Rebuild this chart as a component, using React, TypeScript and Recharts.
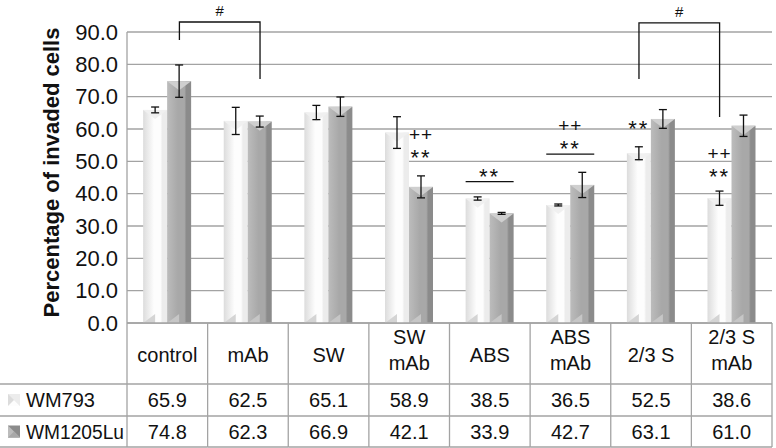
import React from 'react';
import { BarChart, Bar, XAxis, YAxis, CartesianGrid, ErrorBar, LabelList, ReferenceLine } from 'recharts';

const categories = ['control', 'mAb', 'SW', 'SW\nmAb', 'ABS', 'ABS\nmAb', '2/3 S', '2/3 S\nmAb'];
const wm793 = [65.9, 62.5, 65.1, 58.9, 38.5, 36.5, 52.5, 38.6];
const wm1205Lu = [74.8, 62.3, 66.9, 42.1, 33.9, 42.7, 63.1, 61.0];
const wm793Err = [0.9, 4.2, 2.2, 4.9, 0.5, 0.3, 2.0, 2.2];
const wm1205LuErr = [5.0, 1.7, 3.0, 3.4, 0.3, 3.9, 2.9, 3.3];
const seriesNames = ['WM793', 'WM1205Lu'];
const yTicks = [0, 10, 20, 30, 40, 50, 60, 70, 80, 90];

// significance marks; heights are in data units (percent)
const marks = [
  { cat: 3, on: 'b', text: ['++', '**'], at: [58.1, 52.6] },
  { cat: 4, on: 'pair', text: ['**'], at: [46.7], rule: 43.7 },
  { cat: 5, on: 'pair', text: ['++', '**'], at: [60.9, 55.4], rule: 52.2 },
  { cat: 6, on: 'a', text: ['**'], at: [61.6] },
  { cat: 7, on: 'a', text: ['++', '**'], at: [52.3, 46.8] },
];

// "#" brackets between two bars
const brackets = [
  { from: 'control', to: 'mAb', on: 'b', legs: [87.5, 75.5], top: 93.1 },
  { from: '2/3 S', to: '2/3 S\nmAb', on: 'a', legs: [75.5, 63.7], top: 92.8 },
];

const data = categories.map((name, i) => ({
  name,
  a: wm793[i],
  b: wm1205Lu[i],
  ea: wm793Err[i],
  eb: wm1205LuErr[i],
}));

const W = 776;
const H = 448;
const GAP = 0.2; // barCategoryGap as fraction
const FONT = "'Liberation Sans', Arial, Helvetica, sans-serif";
const INK = '#111';
const LINE = '#a3a3a3';

const palettes: any = {
  a: { left: '#dcdcdc', mid: '#fdfdfd', right: '#ececec', top: '#f0f0f0', bottom: '#d4d4d4' },
  b: { left: '#bcbcbc', mid: '#a8a8a8', right: '#8b8b8b', top: '#cfcfcf', bottom: '#c6c6c6' },
};

function BevelBar(props: any) {
  const { x, y, width: w, height: h, pal } = props;
  if (!h || h <= 0) return null;
  const p = palettes[pal];
  const b = Math.min(w * 0.38, h / 2);
  const id = `bevel-${pal}`;
  return (
    <g>
      <defs>
        <linearGradient id={id} x1="0" y1="0" x2="1" y2="0">
          <stop offset="0" stopColor={p.left} />
          <stop offset="0.45" stopColor={p.mid} />
          <stop offset="0.72" stopColor={p.mid} />
          <stop offset="0.8" stopColor={p.right} />
          <stop offset="1" stopColor={p.right} />
        </linearGradient>
      </defs>
      <rect x={x} y={y} width={w} height={h} fill={`url(#${id})`} />
      <polygon points={`${x},${y} ${x + w},${y} ${x + w / 2},${y + b}`} fill={p.top} />
      <polygon points={`${x},${y + h} ${x + w / 2},${y + h - b} ${x + w / 2},${y + h}`} fill={p.bottom} />
    </g>
  );
}

function SigMark(props: any, series: string) {
  const { x, y, width, height, value, index } = props;
  const m = marks.find((k) => k.cat === index && (k.on === series || (k.on === 'pair' && series === 'a')));
  if (!m || !height) return null;
  const base = y + height;
  const py = (v: number) => base - (v * height) / value;
  const cx = m.on === 'pair' ? x + width : x + width / 2;
  return (
    <g>
      {m.text.map((t, j) => (
        <text
          key={j}
          x={cx}
          y={py(m.at[j]) + (t === '**' ? 12 : 6)}
          textAnchor="middle"
          fontSize={t === '**' ? 22 : 19}
          letterSpacing={t === '**' ? 2 : 1}
          fontFamily={FONT}
          fill={INK}
        >
          {t}
        </text>
      ))}
      {m.rule !== undefined && (
        <line x1={x} x2={x + 2 * width} y1={py(m.rule)} y2={py(m.rule)} stroke={INK} strokeWidth={1.3} />
      )}
    </g>
  );
}

function bracketShape(br: any) {
  return (props: any) => {
    const { x1, y1, x2, y2 } = props;
    const dist = categories.indexOf(br.to) - categories.indexOf(br.from);
    const step = (x2 - x1) / dist;
    const shift = (br.on === 'b' ? 1 : -1) * ((1 - 2 * GAP) / 4) * step;
    const ax = x1 + shift;
    const bx = x2 + shift;
    const perUnit = (y2 - y1) / (br.legs[1] - br.legs[0]);
    const ty = y1 + (br.top - br.legs[0]) * perUnit;
    return (
      <g>
        <path d={`M${ax},${y1} V${ty} H${bx} V${y2}`} stroke={INK} strokeWidth={1.3} fill="none" />
        <text x={(ax + bx) / 2} y={ty - 6} textAnchor="middle" fontSize={15} fontFamily={FONT} fill={INK}>
          #
        </text>
      </g>
    );
  };
}

function LegendKey({ x, y, pal }: any) {
  const p = palettes[pal];
  const s = 12;
  return (
    <g>
      <rect x={x} y={y - s / 2} width={s} height={s} fill={p.right} />
      <polygon points={`${x},${y - s / 2} ${x + s},${y + s / 2} ${x},${y + s / 2}`} fill={p.left} />
      <polygon points={`${x},${y + s / 2} ${x + s},${y + s / 2} ${x + s / 2},${y}`} fill={p.mid} />
    </g>
  );
}

function TableTick(props: any) {
  const { x, y, payload, index, width } = props;
  const n = categories.length;
  const cw = width / n;
  const left = x - cw / 2;
  const right = x + cw / 2;
  const rows = [y + 61, y + 93, y + 124];
  const lines = String(payload.value).split('\n');
  const txt = { fontFamily: FONT, fontSize: 20, fill: INK, textAnchor: 'middle' as const, dominantBaseline: 'central' as const };
  const i = categories.indexOf(payload.value);
  return (
    <g>
      {index === 0 && (
        <g>
          <line x1={left} x2={left} y1={y} y2={rows[2]} stroke={LINE} strokeWidth={1.3} />
          <line x1={0} x2={left} y1={rows[0]} y2={rows[0]} stroke={LINE} strokeWidth={1.3} />
          <line x1={0} x2={left} y1={rows[1]} y2={rows[1]} stroke={LINE} strokeWidth={1.3} />
          <line x1={0} x2={left} y1={rows[2]} y2={rows[2]} stroke={LINE} strokeWidth={1.3} />
          <LegendKey x={8} y={(rows[0] + rows[1]) / 2} pal="a" />
          <LegendKey x={8} y={(rows[1] + rows[2]) / 2} pal="b" />
          <text {...txt} textAnchor="start" x={26} y={(rows[0] + rows[1]) / 2}>{seriesNames[0]}</text>
          <text {...txt} textAnchor="start" x={26} y={(rows[1] + rows[2]) / 2} textLength={98} lengthAdjust="spacingAndGlyphs">{seriesNames[1]}</text>
        </g>
      )}
      <line x1={right} x2={right} y1={y} y2={rows[2]} stroke={LINE} strokeWidth={1.3} />
      <line x1={left} x2={right} y1={rows[0]} y2={rows[0]} stroke={LINE} strokeWidth={1.3} />
      <line x1={left} x2={right} y1={rows[1]} y2={rows[1]} stroke={LINE} strokeWidth={1.3} />
      <line x1={left} x2={right} y1={rows[2]} y2={rows[2]} stroke={LINE} strokeWidth={1.3} />
      {lines.length === 1 ? (
        <text {...txt} x={x} y={y + 32}>{lines[0]}</text>
      ) : (
        lines.map((l, j) => (
          <text key={j} {...txt} x={x} y={y + 14 + j * 26}>{l}</text>
        ))
      )}
      <text {...txt} x={x} y={(rows[0] + rows[1]) / 2}>{wm793[i].toFixed(1)}</text>
      <text {...txt} x={x} y={(rows[1] + rows[2]) / 2}>{wm1205Lu[i].toFixed(1)}</text>
    </g>
  );
}

export default function App() {
  return (
    <div style={{ position: 'absolute', left: 0, top: 0, width: W, height: H, background: '#fff' }}>
      <BarChart
        width={W}
        height={H}
        data={data}
        margin={{ top: 32, right: 4, left: 0, bottom: 0 }}
        barCategoryGap={`${GAP * 100}%`}
        barGap={0}
        style={{ fontFamily: FONT }}
      >
        <CartesianGrid vertical={false} stroke={LINE} strokeWidth={1.3} />
        <XAxis
          dataKey="name"
          height={125}
          interval={0}
          tickSize={0}
          tickMargin={0}
          tickLine={false}
          axisLine={{ stroke: LINE, strokeWidth: 1.3 }}
          tick={<TableTick />}
        />
        <YAxis
          width={127}
          domain={[0, 90]}
          ticks={yTicks}
          interval={0}
          tickSize={0}
          tickMargin={9}
          tickLine={false}
          axisLine={{ stroke: LINE, strokeWidth: 1.3 }}
          tickFormatter={(v: number) => v.toFixed(1)}
          tick={{ fill: INK, fontSize: 22, fontFamily: FONT }}
          label={{
            content: (p: any) => {
              const vb = p.viewBox;
              const cx = vb.x + 51;
              const cy = vb.y + vb.height / 2 - 5;
              return (
                <text
                  x={cx}
                  y={cy}
                  transform={`rotate(-90 ${cx} ${cy})`}
                  textAnchor="middle"
                  dominantBaseline="central"
                  fontSize={22}
                  fontWeight="bold"
                  fontFamily={FONT}
                  fill={INK}
                >
                  Percentage of invaded cells
                </text>
              );
            },
          }}
        />
        <Bar dataKey="a" name={seriesNames[0]} isAnimationActive={false} shape={(p: any) => <BevelBar {...p} pal="a" />}>
          <ErrorBar dataKey="ea" width={4} stroke={INK} strokeWidth={1.3} direction="y" />
          <LabelList dataKey="a" content={(p: any) => SigMark(p, 'a')} />
        </Bar>
        <Bar dataKey="b" name={seriesNames[1]} isAnimationActive={false} shape={(p: any) => <BevelBar {...p} pal="b" />}>
          <ErrorBar dataKey="eb" width={4} stroke={INK} strokeWidth={1.3} direction="y" />
          <LabelList dataKey="b" content={(p: any) => SigMark(p, 'b')} />
        </Bar>
        {brackets.map((br, k) => (
          <ReferenceLine
            key={k}
            segment={[
              { x: br.from, y: br.legs[0] },
              { x: br.to, y: br.legs[1] },
            ]}
            ifOverflow="visible"
            shape={bracketShape(br)}
          />
        ))}
      </BarChart>
    </div>
  );
}
